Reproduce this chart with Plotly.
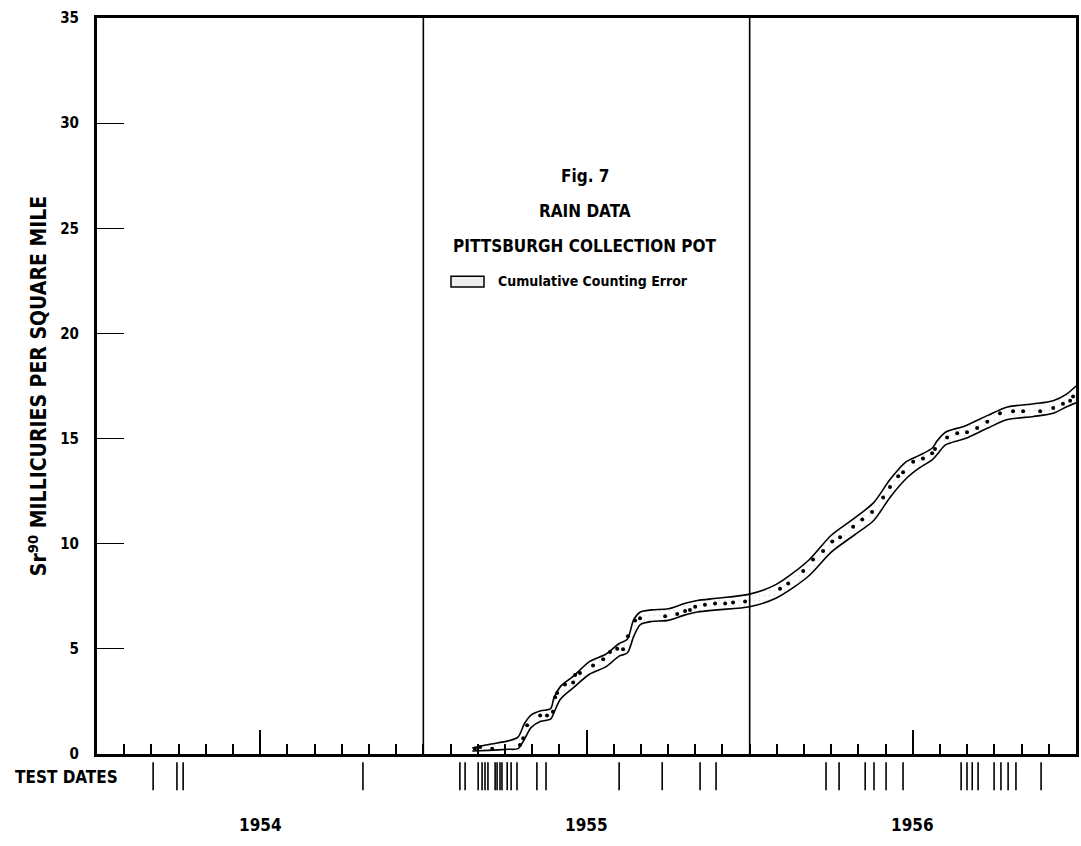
import plotly.graph_objects as go

# ---------------- data ----------------
years = [1954, 1955, 1956]
year_labels = ["1954", "1955", "1956"]
y_ticks = [0, 5, 10, 15, 20, 25, 30, 35]

# cumulative counting error band (decimal year, upper, lower)
band_x = [1955.15, 1955.20, 1955.26, 1955.29, 1955.31, 1955.33, 1955.36, 1955.39, 1955.40,
          1955.42, 1955.46, 1955.51, 1955.56, 1955.60, 1955.625, 1955.645, 1955.665, 1955.70,
          1955.75, 1955.80, 1955.84, 1955.90, 1956.00, 1956.08, 1956.18, 1956.25, 1956.32,
          1956.38, 1956.43, 1956.48, 1956.52, 1956.56, 1956.575, 1956.60, 1956.66, 1956.73,
          1956.79, 1956.87, 1956.93, 1956.97, 1957.0]
band_upper = [0.28, 0.45, 0.62, 0.8, 1.45, 1.85, 2.05, 2.15, 2.65,
              3.2, 3.7, 4.4, 4.75, 5.25, 5.45, 6.4, 6.75, 6.85,
              6.9, 7.15, 7.3, 7.4, 7.6, 8.05, 9.2, 10.4, 11.2,
              11.95, 13.05, 13.9, 14.2, 14.55, 14.9, 15.3, 15.6, 16.1,
              16.5, 16.65, 16.8, 17.1, 17.5]
band_lower = [0.14, 0.17, 0.22, 0.25, 0.7, 1.25, 1.55, 1.65, 1.95,
              2.6, 3.15, 3.8, 4.15, 4.65, 4.8, 5.6, 6.15, 6.3,
              6.35, 6.6, 6.75, 6.85, 7.0, 7.4, 8.45, 9.6, 10.4,
              11.1, 12.2, 13.1, 13.6, 14.0, 14.25, 14.7, 15.0, 15.5,
              15.9, 16.05, 16.2, 16.5, 16.7]

# measured cumulative values (dots)
dot_x = [1955.158, 1955.174, 1955.211, 1955.296, 1955.306, 1955.318, 1955.358, 1955.379,
         1955.397, 1955.404, 1955.410, 1955.434, 1955.459, 1955.465, 1955.480, 1955.520,
         1955.551, 1955.572, 1955.594, 1955.612, 1955.627, 1955.649, 1955.664, 1955.741,
         1955.778, 1955.802, 1955.817, 1955.833, 1955.863, 1955.894, 1955.925, 1955.949,
         1955.986, 1956.093, 1956.118, 1956.164, 1956.194, 1956.225, 1956.253, 1956.277,
         1956.317, 1956.345, 1956.375, 1956.409, 1956.430, 1956.455, 1956.470, 1956.501,
         1956.531, 1956.559, 1956.568, 1956.605, 1956.636, 1956.666, 1956.697, 1956.728,
         1956.767, 1956.807, 1956.838, 1956.890, 1956.930, 1956.960, 1956.982, 1956.991]
dot_y = [0.24, 0.33, 0.24, 0.42, 0.75, 1.36, 1.83, 1.83,
         2.0, 2.7, 2.9, 3.3, 3.4, 3.75, 3.85, 4.2,
         4.5, 4.85, 5.0, 4.98, 5.6, 6.35, 6.45, 6.55,
         6.65, 6.8, 6.85, 7.0, 7.1, 7.15, 7.15, 7.2,
         7.25, 7.85, 8.1, 8.7, 9.25, 9.65, 10.1, 10.3,
         10.8, 11.15, 11.5, 12.2, 12.7, 13.2, 13.4, 13.9,
         14.05, 14.3, 14.5, 15.05, 15.25, 15.3, 15.5, 15.8,
         16.2, 16.3, 16.3, 16.3, 16.45, 16.65, 16.8, 17.0]

# nuclear test dates (decimal year)
test_dates = [1954.172, 1954.245, 1954.264, 1954.815,
              1955.112, 1955.128, 1955.168, 1955.180, 1955.189, 1955.198, 1955.220,
              1955.226, 1955.235, 1955.241, 1955.257, 1955.269, 1955.287, 1955.348,
              1955.376, 1955.600, 1955.732, 1955.848, 1955.897,
              1956.234, 1956.274, 1956.354, 1956.381, 1956.418, 1956.470,
              1956.648, 1956.666, 1956.682, 1956.700, 1956.749, 1956.770, 1956.792,
              1956.816, 1956.893]

# ---------------- layout helpers ----------------
W, H = 1081, 846
ML, MR, MT, MB = 97, 5, 18, 0
PH = H - MT - MB
PW = W - ML - MR


def py(p):
    return (H - MB - p) / PH


def px(p):
    return (p - ML) / PW


FONT = "DejaVu Sans Condensed, Liberation Sans Narrow, Arial Narrow, sans-serif"
x0, x1 = years[0], years[-1] + 1
months = [years[0] + k / 12 for k in range(1, 36)]
mid_years = [y + 0.5 for y in years]

fig = go.Figure()

fig.add_trace(go.Scatter(
    x=band_x, y=band_lower, mode="lines", line=dict(color="black", width=1.6, shape="spline", smoothing=0.8),
    showlegend=False, hoverinfo="skip"))
fig.add_trace(go.Scatter(
    x=band_x, y=band_upper, mode="lines", line=dict(color="black", width=1.6, shape="spline", smoothing=0.8),
    fill="tonexty", fillcolor="white",
    fillpattern=dict(shape=".", size=5, solidity=0.12, fgcolor="#c8c8c8", bgcolor="white"),
    name="Cumulative Counting Error", showlegend=False, hoverinfo="skip"))
fig.add_trace(go.Scatter(
    x=dot_x, y=dot_y, mode="markers", marker=dict(color="black", size=4),
    showlegend=False, name="Sr90"))

# test dates strip
fig.add_trace(go.Scatter(
    x=test_dates, y=[0.5] * len(test_dates), mode="markers", xaxis="x3", yaxis="y3",
    marker=dict(symbol="line-ns", size=20, line=dict(color="black", width=1.6)),
    showlegend=False, cliponaxis=False, hoverinfo="x"))

# mid-year tick carrier (invisible)
fig.add_trace(go.Scatter(x=[x0, x1], y=[0, 0], xaxis="x2", mode="lines",
                         line=dict(width=0), showlegend=False, hoverinfo="skip"))

main_bottom = py(762)

fig.update_layout(
    width=W, height=H,
    margin=dict(l=ML, r=MR, t=MT, b=MB, pad=0),
    paper_bgcolor="white", plot_bgcolor="white",
    font=dict(family=FONT, color="black", size=14),
    xaxis=dict(range=[x0, x1], domain=[0, 1], anchor="y", showgrid=False, zeroline=False,
               showline=True, linecolor="black", linewidth=3, mirror=True,
               tickvals=mid_years, ticks="inside", ticklen=24, tickwidth=1.5, tickcolor="black",
               showticklabels=False,
               minor=dict(tickvals=months, ticks="inside", ticklen=10, tickwidth=1.5, tickcolor="black",
                          showgrid=False)),
    xaxis2=dict(range=[x0, x1], overlaying="x", anchor="y", visible=False),
    yaxis=dict(range=[0, 35], domain=[main_bottom, 1], anchor="x",
               tickvals=y_ticks, ticks="inside", ticklen=27, tickwidth=1.2, tickcolor="black",
               showline=True, linecolor="black", linewidth=3, mirror=True,
               showgrid=False, zeroline=False, ticklabelstandoff=12,
               tickfont=dict(family=FONT, size=15, weight="bold"),
               title=dict(text="Sr<sup>90</sup> MILLICURIES PER SQUARE MILE",
                          font=dict(family=FONT, size=21, weight="bold"), standoff=8)),
    xaxis3=dict(range=[x0, x1], domain=[0, 1], anchor="y3", visible=False),
    yaxis3=dict(range=[0, 1], domain=[py(796), py(773)], anchor="x3", visible=False),
    showlegend=False,
)

# year dividers
for yv in years[1:]:
    fig.add_shape(type="line", xref="x", yref="y domain", x0=yv, x1=yv, y0=0, y1=1,
                  line=dict(color="black", width=1.6))

# legend key (box + label)
fig.add_shape(type="rect", xref="paper", yref="paper", x0=px(451), x1=px(484), y0=py(290), y1=py(279),
              line=dict(color="black", width=1.5), fillcolor="#eeeeee")
fig.add_annotation(text="Cumulative Counting Error", xref="paper", yref="paper", x=px(496), y=py(284),
                   showarrow=False, xanchor="left", yanchor="middle",
                   font=dict(family=FONT, size=14, weight="bold"))

# title block
for txt, yy in [("Fig. 7", 178), ("RAIN DATA", 213), ("PITTSBURGH COLLECTION POT", 248)]:
    fig.add_annotation(text=txt, xref="paper", yref="paper", x=px(585), y=py(yy),
                       showarrow=False, xanchor="center", yanchor="middle",
                       font=dict(family=FONT, size=17, weight="bold"))

# TEST DATES label
fig.add_annotation(text="TEST DATES", xref="paper", yref="paper", x=px(13), y=py(785),
                   showarrow=False, xanchor="left", yanchor="middle",
                   font=dict(family=FONT, size=17, weight="bold"))

# year labels
for yv, lab in zip(mid_years, year_labels):
    fig.add_annotation(text=lab, xref="x", yref="paper", x=yv, y=py(834),
                       showarrow=False, xanchor="center", yanchor="middle",
                       font=dict(family=FONT, size=17, weight="bold"))

fig.write_html("out.html")
